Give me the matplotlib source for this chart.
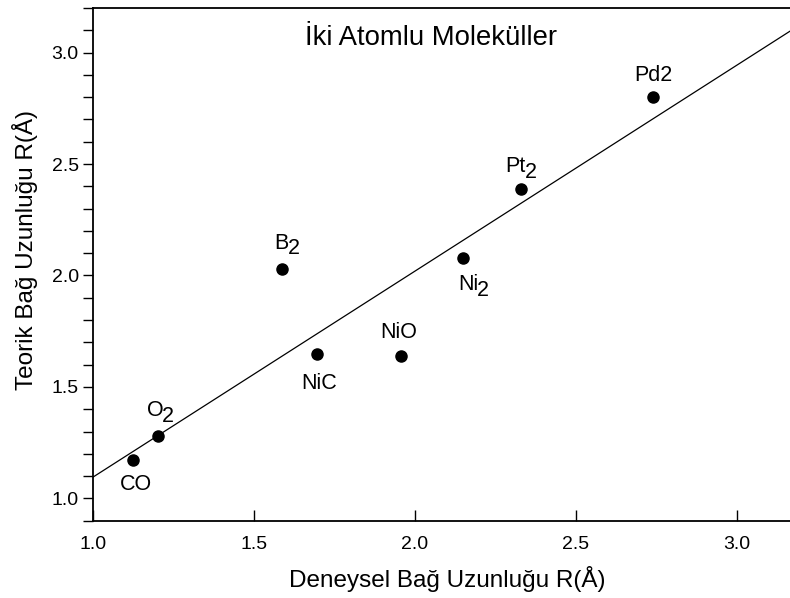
import numpy as np
import matplotlib
matplotlib.use("Agg")
import matplotlib.pyplot as plt
from matplotlib.ticker import MultipleLocator

plt.rcParams['font.family'] = ['Liberation Sans', 'DejaVu Sans']

# deneysel / teorik bag uzunluklari (Angstrom)
molecules = ['CO', 'O2', 'B2', 'NiC', 'NiO', 'Ni2', 'Pt2', 'Pd2']
label_base = ['CO', 'O', 'B', 'NiC', 'NiO', 'Ni', 'Pt', 'Pd2']
label_sub = ['', '2', '2', '', '', '2', '2', '']
r_exp = [1.124, 1.204, 1.587, 1.696, 1.957, 2.149, 2.329, 2.741]
r_theo = [1.171, 1.279, 2.027, 1.646, 1.638, 2.080, 2.388, 2.800]
# label baseline offsets in points (dx, dy)
offsets = [(2.7, -21.6), (-2.2, 14.4), (0, 15.1), (1.9, -25.2), (-1.4, 13),
		   (4, -23.3), (-3.4, 12.5), (0, 11.7)]

fig = plt.figure(figsize=(7.9, 5.98), dpi=100)
ax = fig.add_axes([92.7/790, 1 - 520.7/598, (801 - 92.7)/790, (520.7 - 8)/598])

ax.plot(r_exp, r_theo, 'o', color='black', markersize=8)

# lineer fit
slope, icpt = np.polyfit(r_exp, r_theo, 1)
xs = np.array([1.0, 3.2])
ax.plot(xs, slope*xs + icpt, color='black', linewidth=0.9)

for x, y, base, sub, (dx, dy) in zip(r_exp, r_theo, label_base, label_sub, offsets):
	t = ax.annotate(base, (x, y), xytext=(dx, dy), textcoords='offset points',
					ha='center', va='baseline', fontsize=15.5)
	if sub:
		# alt indis: ayni boyut, biraz asagida
		ax.annotate(sub, xy=(1, 0), xycoords=t, xytext=(-1.0, -4.3),
					textcoords='offset points', ha='left', va='bottom', fontsize=15.5)

ax.text(0.2997, 0.941, 'İki Atomlu Moleküller', transform=ax.transAxes,
		ha='left', va='center', fontsize=19.8)

ax.set_xlim(1.0, 3.2)
ax.set_ylim(0.9, 3.2)
ax.xaxis.set_major_locator(MultipleLocator(0.5))
ax.yaxis.set_major_locator(MultipleLocator(0.5))
ax.yaxis.set_minor_locator(MultipleLocator(0.1))
ax.tick_params(axis='x', direction='in', length=8, width=1, labelsize=14, pad=11)
ax.tick_params(axis='y', which='both', direction='out', length=7, width=1, labelsize=14, pad=3)
for s in ax.spines.values():
	s.set_linewidth(1.3)

ax.set_xlabel('Deneysel Bağ Uzunluğu R(Å)', fontsize=17.5)
ax.set_ylabel('Teorik Bağ Uzunluğu R(Å)', fontsize=17.5)
ax.xaxis.set_label_coords(0.5, -0.088)
ax.yaxis.set_label_coords(-0.077, 0.528)

fig.savefig('out.png', dpi=100)
